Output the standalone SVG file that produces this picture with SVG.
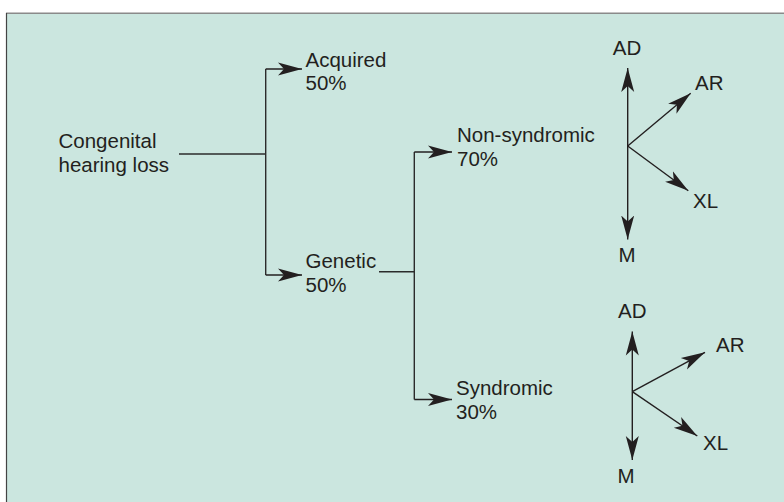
<svg xmlns="http://www.w3.org/2000/svg" width="784" height="502" viewBox="0 0 784 502">
  <style>
    .t { font-family: "Liberation Sans", Arial, sans-serif; font-size: 20.5px; fill: #231f20; }
    .c { text-anchor: middle; }
    .ln { stroke: #2b2b2b; stroke-width: 1.4; fill: none; }
    .ar { stroke: #231f20; stroke-width: 1.4; fill: none; marker-end: url(#ah); }
  </style>
  <defs>
    <marker id="ah" markerUnits="userSpaceOnUse" markerWidth="26" markerHeight="16" viewBox="0 -8 26 16" refX="24" refY="0" orient="auto">
      <path d="M0,-6.5 L24,0 L0,6.5 L6,0 z" fill="#231f20"/>
    </marker>
  </defs>
  <rect x="0" y="0" width="784" height="502" fill="#ffffff"/>
  <rect x="6.5" y="13.5" width="790" height="500" fill="#cbe6df"/>
  <line x1="6" y1="13.2" x2="784" y2="13.2" stroke="#8a8a8a" stroke-width="1.6"/>
  <line x1="6.5" y1="13" x2="6.5" y2="502" stroke="#444" stroke-width="1.2"/>

  <g id="connectors">
    <line class="ln" x1="179" y1="154" x2="266" y2="154"/>
    <line class="ln" x1="265.7" y1="69" x2="265.7" y2="275"/>
    <line class="ar" x1="265.7" y1="69" x2="302" y2="69"/>
    <line class="ar" x1="265.7" y1="275" x2="302" y2="275"/>
    <line class="ln" x1="379" y1="271.7" x2="414.3" y2="271.7"/>
    <line class="ln" x1="414.3" y1="152" x2="414.3" y2="399.5"/>
    <line class="ar" x1="414.3" y1="152" x2="452" y2="152"/>
    <line class="ar" x1="414.3" y1="399.5" x2="452" y2="399.5"/>
    <!-- top cross -->
    <line class="ar" x1="627.7" y1="146" x2="627.7" y2="68"/>
    <line class="ar" x1="627.7" y1="146" x2="627.7" y2="239.5"/>
    <line class="ar" x1="627.7" y1="146" x2="690.7" y2="93.3"/>
    <line class="ar" x1="627.7" y1="146" x2="688.3" y2="190.7"/>
    <!-- bottom cross -->
    <line class="ar" x1="632.3" y1="391.7" x2="632.3" y2="331.5"/>
    <line class="ar" x1="632.3" y1="391.7" x2="632.3" y2="460"/>
    <line class="ar" x1="632.3" y1="391.7" x2="705" y2="352.3"/>
    <line class="ar" x1="632.3" y1="391.7" x2="697.3" y2="436"/>
  </g>

  <g id="congenital">
    <text class="t" x="58.5" y="148">Congenital</text>
    <text class="t" x="58.5" y="172">hearing loss</text>
  </g>
  <g id="acquired">
    <text class="t" x="305.5" y="66.5">Acquired</text>
    <text class="t" x="305.5" y="90">50%</text>
  </g>
  <g id="genetic">
    <text class="t" x="305.5" y="267.5">Genetic</text>
    <text class="t" x="305.5" y="291.5">50%</text>
  </g>
  <g id="nonsyndromic">
    <text class="t" x="457" y="142">Non-syndromic</text>
    <text class="t" x="457" y="165.5">70%</text>
  </g>
  <g id="syndromic">
    <text class="t" x="456" y="395">Syndromic</text>
    <text class="t" x="456" y="418.5">30%</text>
  </g>
  <g id="inherit-top">
    <text class="t c" x="627" y="55">AD</text>
    <text class="t" x="695" y="89.5">AR</text>
    <text class="t" x="693" y="207.5">XL</text>
    <text class="t c" x="627" y="262">M</text>
  </g>
  <g id="inherit-bottom">
    <text class="t c" x="632.3" y="317.5">AD</text>
    <text class="t" x="716" y="351.5">AR</text>
    <text class="t" x="703" y="450">XL</text>
    <text class="t c" x="626" y="482.5">M</text>
  </g>
</svg>
